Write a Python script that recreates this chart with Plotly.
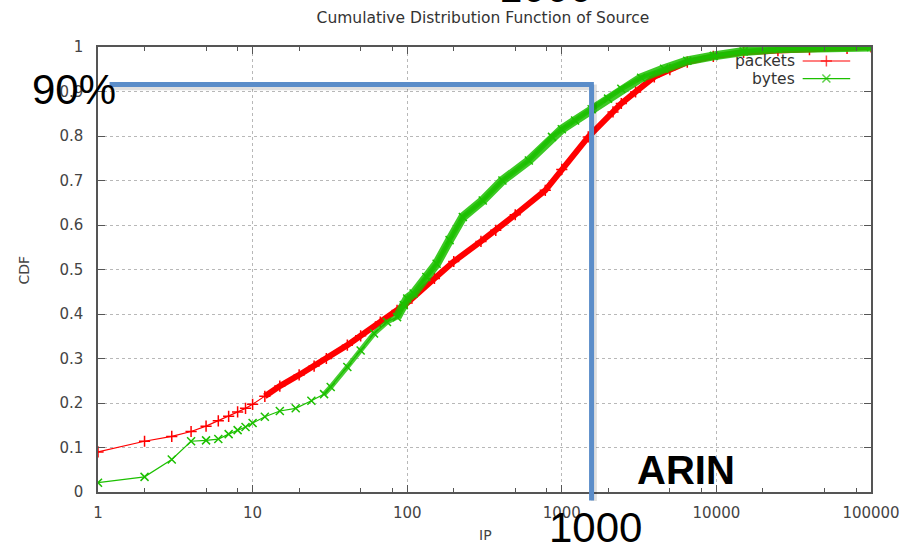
import plotly.graph_objects as go

# ---------------- data ----------------
packets_x = [1, 2, 3, 4, 5, 6, 7, 8, 9, 10, 12, 15, 20, 25, 30, 41, 50, 67, 86, 100,
             150, 200, 300, 374, 500, 782, 1000, 1483, 2144, 2427, 3000, 3966, 5000,
             6480, 9550, 15000, 25000, 40000, 70000, 100000]
packets_y = [0.090, 0.114, 0.125, 0.136, 0.148, 0.160, 0.170, 0.180, 0.188, 0.197,
             0.215, 0.238, 0.263, 0.283, 0.300, 0.330, 0.351, 0.382, 0.408, 0.425,
             0.480, 0.518, 0.563, 0.588, 0.623, 0.678, 0.725, 0.798, 0.854, 0.873,
             0.899, 0.933, 0.949, 0.966, 0.979, 0.988, 0.992, 0.994, 0.997, 1.000]

bytes_x = [1, 2, 3, 4, 5, 6, 7, 8, 9, 10, 12, 15, 19, 24, 29, 32, 41, 50, 61, 74, 86,
           95, 100, 110, 133, 155, 188, 229, 308, 413, 612, 864, 1000, 1219, 1560,
           1992, 2427, 3260, 4592, 6480, 9616, 15000, 25000, 50000, 100000]
bytes_y = [0.021, 0.034, 0.073, 0.114, 0.116, 0.119, 0.130, 0.139, 0.146, 0.155,
           0.169, 0.182, 0.188, 0.205, 0.220, 0.236, 0.281, 0.318, 0.356, 0.382,
           0.393, 0.420, 0.435, 0.446, 0.483, 0.513, 0.566, 0.618, 0.655, 0.700,
           0.745, 0.798, 0.815, 0.835, 0.860, 0.884, 0.906, 0.931, 0.951, 0.969,
           0.980, 0.990, 0.996, 0.999, 1.000]

x_tickvals = [1, 10, 100, 1000, 10000, 100000]
x_ticktext = ["1", "10", "100", "1000", "10000", "100000"]
minor_digits = [2, 5, 8]

title_text = "Cumulative Distribution Function of Source"
x_title = "IP"
y_title = "CDF"
legend_names = ["packets", "bytes"]

# highlighted point of the overlay (in paper fractions of the plot area)
mark_x_paper = 0.6385
mark_y_paper = 0.9155

# ---------------- styles ----------------
RED = "#ff0000"
GREEN = "#1cc000"
BLUE = "#5b8dc9"
AXIS = "#555555"
FONT = "DejaVu Sans"

red_band_from = 10    # index where the markers become dense
green_band_from = 14  # medium band
green_thick_from = 20 # thick band

fig = go.Figure()

# dense "band" look of the many overlapping points
fig.add_trace(go.Scatter(x=packets_x[red_band_from:], y=packets_y[red_band_from:],
                         mode="lines", line=dict(color=RED, width=6),
                         showlegend=False, hoverinfo="skip"))
fig.add_trace(go.Scatter(x=packets_x, y=packets_y, mode="lines+markers",
                         name=legend_names[0],
                         line=dict(color=RED, width=1.2),
                         marker=dict(symbol="cross-thin", size=8,
                                     line=dict(color=RED, width=1.5)),
                         showlegend=False))
fig.add_trace(go.Scatter(x=bytes_x[green_band_from:], y=bytes_y[green_band_from:],
                         mode="lines", line=dict(color=GREEN, width=5),
                         opacity=0.8, showlegend=False, hoverinfo="skip"))
fig.add_trace(go.Scatter(x=bytes_x[green_thick_from:], y=bytes_y[green_thick_from:],
                         mode="lines", line=dict(color=GREEN, width=9),
                         opacity=0.85, showlegend=False, hoverinfo="skip"))
fig.add_trace(go.Scatter(x=bytes_x, y=bytes_y, mode="lines+markers",
                         name=legend_names[1],
                         line=dict(color=GREEN, width=1.2),
                         marker=dict(symbol="x-thin", size=8,
                                     line=dict(color=GREEN, width=1.5)),
                         showlegend=False))

# gnuplot-like key (text left of the sample) drawn on an overlay axis
key_rows = [0.9685, 0.929]
key_x = [0.9116, 0.9423, 0.9731]
for name, yk, col, sym in zip(legend_names, key_rows, [RED, GREEN],
                              ["cross-thin", "x-thin"]):
    fig.add_trace(go.Scatter(x=key_x, y=[yk] * 3, xaxis="x2", yaxis="y2",
                             mode="lines+markers", line=dict(color=col, width=1.2),
                             marker=dict(symbol=sym, size=[0, 8, 0],
                                         line=dict(color=col, width=1.5)),
                             showlegend=False, hoverinfo="skip"))
    fig.add_annotation(x=0.9045, y=yk, xref="paper", yref="paper",
                       text=name, showarrow=False, xanchor="right",
                       yanchor="middle",
                       font=dict(family=FONT, size=15.5, color="#333333"))

minor_vals = [d * m for d in x_tickvals[:-1] for m in minor_digits]

axis_common = dict(showline=True, linecolor=AXIS, linewidth=1.5, mirror="ticks",
                   ticks="inside", ticklen=7, tickcolor=AXIS, tickwidth=1.2,
                   showgrid=True, gridcolor="#b8b8b8", griddash="dot", gridwidth=1,
                   zeroline=False,
                   tickfont=dict(family=FONT, size=15, color="#444444"))

fig.update_layout(
    width=912, height=550,
    margin=dict(l=98, r=33, t=47, b=58),
    paper_bgcolor="white", plot_bgcolor="white",
    showlegend=False,
    title=dict(text=title_text, x=0.498, xref="paper", xanchor="center",
               y=1 - 18 / 550, yref="container", yanchor="middle",
               font=dict(family=FONT, size=15.5, color="#333333")),
    xaxis=dict(type="log", range=[0, 5], tickvals=x_tickvals, ticktext=x_ticktext,
               ticklabelstandoff=6,
               minor=dict(ticks="inside", ticklen=4, tickvals=minor_vals,
                          tickcolor=AXIS, showgrid=False),
               **axis_common),
    yaxis=dict(range=[0, 1], dtick=0.1, tick0=0, ticklabelstandoff=10,
               **axis_common),
    xaxis2=dict(overlaying="x", range=[0, 1], visible=False, fixedrange=True),
    yaxis2=dict(overlaying="y", range=[0, 1], visible=False, fixedrange=True),
)

# axis titles
fig.add_annotation(x=-0.0958, y=0.5, xref="paper", yref="paper", text=y_title,
                   textangle=-90, showarrow=False, xanchor="center", yanchor="middle",
                   font=dict(family=FONT, size=14, color="#444444"))
fig.add_annotation(x=0.5015, y=-0.0973, xref="paper", yref="paper", text=x_title,
                   showarrow=False, xanchor="center", yanchor="middle",
                   font=dict(family=FONT, size=14, color="#444444"))

# overlay: blue guide lines with light shadow
shadow = "rgba(0,0,0,0.12)"
fig.add_shape(type="line", xref="paper", yref="paper", x0=0.015, x1=mark_x_paper,
              y0=mark_y_paper - 0.006, y1=mark_y_paper - 0.006,
              line=dict(color=shadow, width=6))
fig.add_shape(type="line", xref="paper", yref="paper", x0=mark_x_paper + 0.003,
              x1=mark_x_paper + 0.003, y0=mark_y_paper, y1=-0.02,
              line=dict(color=shadow, width=6))
fig.add_shape(type="line", xref="paper", yref="paper", x0=0.015,
              x1=mark_x_paper + 0.003, y0=mark_y_paper, y1=mark_y_paper,
              line=dict(color=BLUE, width=5))
fig.add_shape(type="line", xref="paper", yref="paper", x0=mark_x_paper,
              x1=mark_x_paper, y0=mark_y_paper, y1=-0.019,
              line=dict(color=BLUE, width=5))

big = dict(family="Liberation Sans", size=42, color="black")
for txt, xp, yp, fnt in [("90%", -0.0311, 0.905, big),
                         ("1000", 0.643, -0.0805, big),
                         ("1000", 0.5786, 1.133, big),
                         ("<b>ARIN</b>", 0.7605, 0.0488,
                          dict(family="Liberation Sans", size=40, color="black"))]:
    fig.add_annotation(x=xp, y=yp, xref="paper", yref="paper", text=txt,
                       showarrow=False, xanchor="center", yanchor="middle", font=fnt)

fig.write_html("out.html")
